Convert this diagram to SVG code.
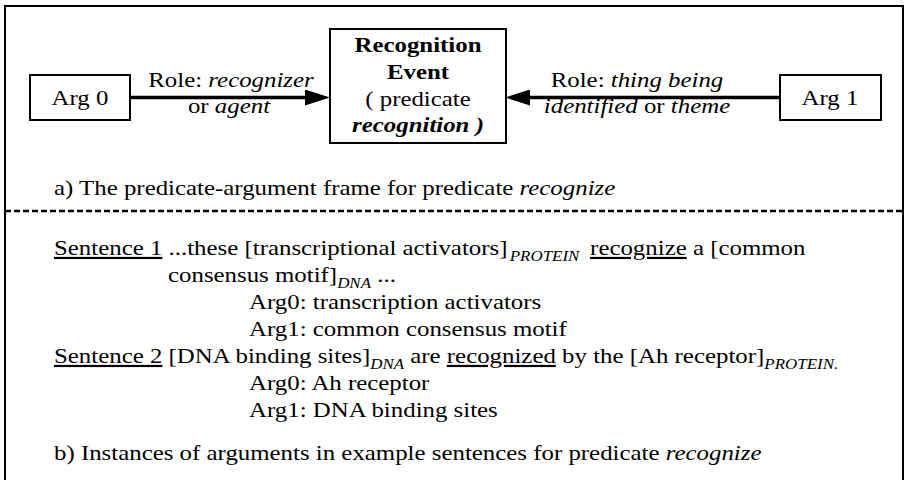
<svg xmlns="http://www.w3.org/2000/svg" width="906" height="480" viewBox="0 0 906 480">
<style>
.t{font-family:'Liberation Serif','Times New Roman',serif;font-size:22px;fill:#000}
.b{font-weight:bold}
.i{font-style:italic}
.sub{font-style:italic;font-size:15px}
.u{text-decoration:underline}
.box{fill:#fff;stroke:#000;stroke-width:2}
.edge{stroke:#000;stroke-width:3.5;fill:none}
</style>
<defs>
<marker id="ah" viewBox="0 0 25 16" refX="0" refY="8" markerWidth="25" markerHeight="16" markerUnits="userSpaceOnUse" orient="auto">
<path d="M0,0 L25,8 L0,16 z" fill="#000"/>
</marker>
</defs>
<rect x="0" y="0" width="906" height="480" fill="#fff"/>
<rect id="frame" x="5" y="6" width="898" height="490" fill="none" stroke="#000" stroke-width="2"/>
<line id="divider" x1="5" y1="211" x2="903" y2="211" stroke="#000" stroke-width="2.5" stroke-dasharray="6 3"/>

<g id="connectors">
<line class="edge" x1="130" y1="97.5" x2="305" y2="97.5" marker-end="url(#ah)"/>
<line class="edge" x1="780" y1="97.5" x2="530" y2="97.5" marker-end="url(#ah)"/>
<text class="t" text-anchor="middle" transform="translate(231 87) scale(1.13 1)">Role: <tspan class="i">recognizer</tspan></text>
<text class="t" text-anchor="middle" transform="translate(229 113) scale(1.13 1)">or <tspan class="i">agent</tspan></text>
<text class="t" text-anchor="middle" transform="translate(637 87) scale(1.13 1)">Role: <tspan class="i">thing being</tspan></text>
<text class="t" text-anchor="middle" transform="translate(637 113) scale(1.13 1)"><tspan class="i">identified</tspan> or <tspan class="i">theme</tspan></text>
</g>

<g id="arg0">
<rect class="box" x="30" y="75" width="100" height="45"/>
<text class="t" text-anchor="middle" transform="translate(80 105) scale(1.13 1)">Arg 0</text>
</g>

<g id="event">
<rect class="box" x="330" y="29" width="176" height="114"/>
<text class="t b" text-anchor="middle" transform="translate(418 52) scale(1.13 1)">Recognition</text>
<text class="t b" text-anchor="middle" transform="translate(418 79) scale(1.13 1)">Event</text>
<text class="t" text-anchor="middle" transform="translate(418 106) scale(1.13 1)">( predicate</text>
<text class="t b i" text-anchor="middle" transform="translate(418 132) scale(1.13 1)">recognition )</text>
</g>

<g id="arg1">
<rect class="box" x="780" y="75" width="101" height="45"/>
<text class="t" text-anchor="middle" transform="translate(830 105) scale(1.13 1)">Arg 1</text>
</g>

<g id="caption-a">
<text class="t" transform="translate(54 195) scale(1.13 1)">a) The predicate-argument frame for predicate <tspan class="i">recognize</tspan></text>
</g>

<g id="examples">
<text class="t" transform="translate(54 255) scale(1.13 1)"><tspan class="u">Sentence 1</tspan> ...these [transcriptional activators]<tspan class="sub" dx="2" dy="6">PROTEIN</tspan><tspan dy="-6" dx="4"> </tspan><tspan class="u">recognize</tspan> a [common</text>
<text class="t" transform="translate(168 282) scale(1.13 1)">consensus motif]<tspan class="sub" dy="6">DNA</tspan><tspan dy="-6"> ...</tspan></text>
<text class="t" transform="translate(249 309) scale(1.13 1)">Arg0: transcription activators</text>
<text class="t" transform="translate(249 336) scale(1.13 1)">Arg1: common consensus motif</text>
<text class="t" transform="translate(54 363) scale(1.13 1)"><tspan class="u">Sentence 2</tspan> [DNA binding sites]<tspan class="sub" dy="6">DNA</tspan><tspan dy="-6"> are </tspan><tspan class="u">recognized</tspan> by the [Ah receptor]<tspan class="sub" dy="6">PROTEIN.</tspan></text>
<text class="t" transform="translate(249 390) scale(1.13 1)">Arg0: Ah receptor</text>
<text class="t" transform="translate(249 417) scale(1.13 1)">Arg1: DNA binding sites</text>
</g>

<g id="caption-b">
<text class="t" transform="translate(54 460) scale(1.13 1)">b) Instances of arguments in example sentences for predicate <tspan class="i">recognize</tspan></text>
</g>
</svg>
